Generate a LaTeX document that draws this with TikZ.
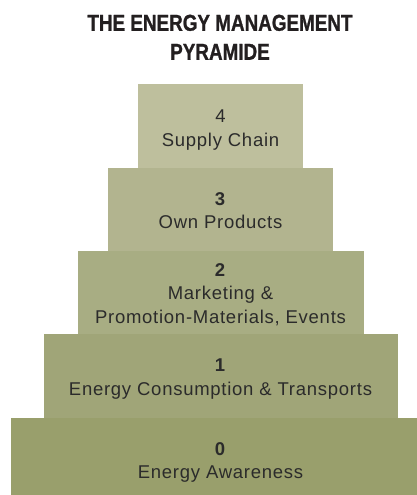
\documentclass[tikz,border=0pt]{standalone}
\usepackage{fontspec}
\setmainfont[LetterSpace=4]{Liberation Sans}
\newfontfamily\titlefont[BoldFeatures={FakeBold=1.2}]{Liberation Sans}
\usetikzlibrary{positioning}
\usepackage{xcolor}

\definecolor{stepfour}{HTML}{BEBF9D}
\definecolor{stepthree}{HTML}{B2B48F}
\definecolor{steptwo}{HTML}{A8AD83}
\definecolor{stepone}{HTML}{A0A578}
\definecolor{stepzero}{HTML}{999F6C}
\definecolor{textgray}{HTML}{2B2B2B}
\definecolor{titlegray}{HTML}{231F20}

\tikzstyle{pyramid}=[
  x=1pt, y=-1pt
]

\begin{document}
\begin{tikzpicture}[
    pyramid,
    levelbox/.style={rectangle, inner sep=0pt, outer sep=0pt, minimum height=83pt},
    leveltext/.style={align=center, inner sep=0pt, text=textgray, font=\fontsize{18.5}{23.5}\selectfont},
    titletext/.style={align=center, inner sep=0pt, text=titlegray, xscale=0.82, font=\titlefont\bfseries\fontsize{23}{29}\selectfont},
    ]
    \useasboundingbox (0,0) rectangle (417,495);

    %Title
    \node[titletext, anchor=north] (title) at (220,14.5) {THE ENERGY MANAGEMENT\\PYRAMIDE};

    %Steps
    \node[levelbox, fill=stepfour, minimum width=165pt, minimum height=84pt] (step4) at (220.5,126) {};
    \node[levelbox, fill=stepthree, minimum width=225pt] (step3) [below=0pt of step4] {};
    \node[levelbox, fill=steptwo, minimum width=286pt] (step2) [below=0pt of step3] {};
    \node[levelbox, fill=stepone, minimum width=354pt, minimum height=84pt] (step1) [below=0pt of step2] {};
    \node[levelbox, fill=stepzero, minimum width=420pt, minimum height=77pt] (step0) [below=0pt of step1] {};

    %Labels
    \node[leveltext, anchor=north] (label4) at ([yshift=-26pt]step4.north) {4\\Supply Chain};
    \node[leveltext, anchor=north] (label3) at ([yshift=-24pt]step3.north) {\textbf{3}\\Own Products};
    \node[leveltext, anchor=north] (label2) at ([yshift=-12pt]step2.north) {\textbf{2}\\Marketing \&\\Promotion-Materials, Events};
    \node[leveltext, anchor=north] (label1) at ([yshift=-25pt]step1.north) {\textbf{1}\\Energy Consumption \& Transports};
    \node[leveltext, anchor=north] (label0) at ([yshift=-24pt]step0.north) {\textbf{0}\\Energy Awareness};
\end{tikzpicture}
\end{document}
